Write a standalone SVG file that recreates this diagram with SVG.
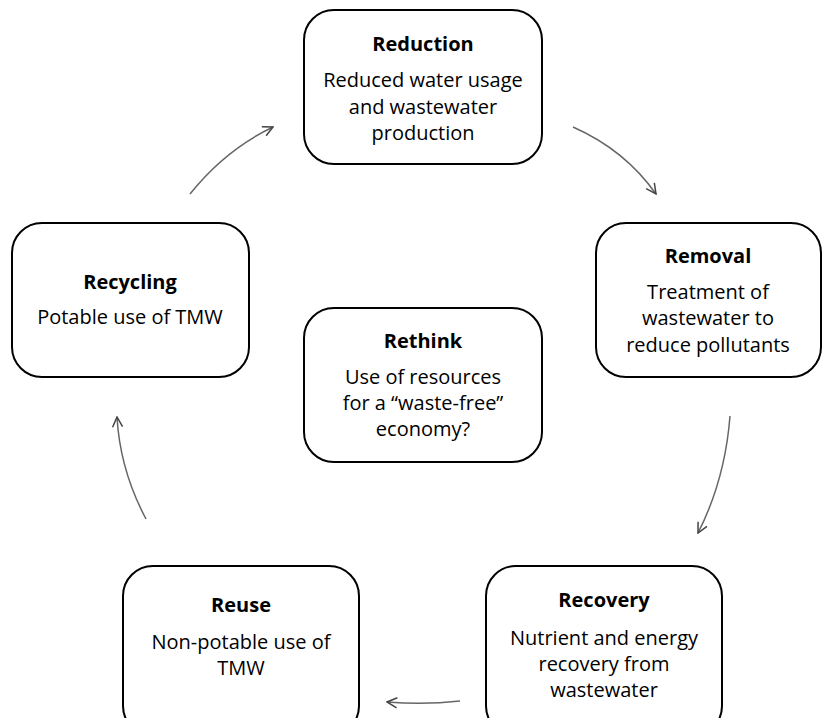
<svg xmlns="http://www.w3.org/2000/svg" width="823" height="718" viewBox="0 0 823 718">
<defs>
<style>
.box{fill:#fff;stroke:#000;stroke-width:2}
.t{font-family:"Open Sans","Noto Sans",sans-serif;font-size:20px;fill:#000;text-anchor:middle}
.b{font-weight:bold}
.c{fill:none;stroke:#666;stroke-width:1.5}
</style>
<marker id="ah" viewBox="0 0 12 12" refX="11" refY="6" markerWidth="12" markerHeight="12" markerUnits="userSpaceOnUse" orient="auto">
<path d="M1,1 L11,6 L1,11" fill="none" stroke="#444" stroke-width="1.5"/>
</marker>
</defs>
<rect width="823" height="718" fill="#fff"/>
<g id="connectors">
<path class="c" d="M573,127 Q625,150 656,194" marker-end="url(#ah)"/>
<path class="c" d="M730,416 Q725,480 698,533" marker-end="url(#ah)"/>
<path class="c" d="M460,701 Q425,705 387,702" marker-end="url(#ah)"/>
<path class="c" d="M146,519 Q120,470 117,417" marker-end="url(#ah)"/>
<path class="c" d="M190,194 Q225,150 273,127" marker-end="url(#ah)"/>
</g>
<g id="reduction">
<rect class="box" x="304" y="10" width="238" height="154" rx="30"/>
<text class="t b" x="423" y="51">Reduction</text>
<text class="t" x="423" y="87">Reduced water usage</text>
<text class="t" x="423" y="114">and wastewater</text>
<text class="t" x="423" y="140">production</text>
</g>
<g id="removal">
<rect class="box" x="596" y="223" width="225" height="154" rx="30"/>
<text class="t b" x="708" y="263">Removal</text>
<text class="t" x="708" y="299">Treatment of</text>
<text class="t" x="708" y="325">wastewater to</text>
<text class="t" x="708" y="352">reduce pollutants</text>
</g>
<g id="recycling">
<rect class="box" x="12" y="223" width="237" height="154" rx="30"/>
<text class="t b" x="130" y="289">Recycling</text>
<text class="t" x="130" y="324">Potable use of TMW</text>
</g>
<g id="rethink">
<rect class="box" x="304" y="308" width="238" height="154" rx="30"/>
<text class="t b" x="423" y="348">Rethink</text>
<text class="t" x="423" y="384">Use of resources</text>
<text class="t" x="423" y="410">for a “waste-free”</text>
<text class="t" x="423" y="436">economy?</text>
</g>
<g id="reuse">
<rect class="box" x="123" y="566" width="236" height="170" rx="30"/>
<text class="t b" x="241" y="612">Reuse</text>
<text class="t" x="241" y="649">Non-potable use of</text>
<text class="t" x="241" y="675">TMW</text>
</g>
<g id="recovery">
<rect class="box" x="486" y="566" width="236" height="170" rx="30"/>
<text class="t b" x="604" y="607">Recovery</text>
<text class="t" x="604" y="645">Nutrient and energy</text>
<text class="t" x="604" y="671">recovery from</text>
<text class="t" x="604" y="697">wastewater</text>
</g>
</svg>
